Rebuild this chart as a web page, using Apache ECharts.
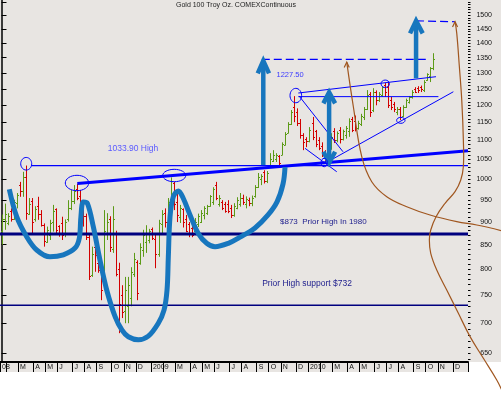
<!DOCTYPE html>
<html><head><meta charset="utf-8">
<script src="https://cdn.jsdelivr.net/npm/echarts@6/dist/echarts.min.js"></script>
<style>html,body{margin:0;padding:0;background:#fff}#c{width:501px;height:396px}</style>
</head><body><div id="c"></div>
<script>
// Weekly OHLC bars [open, high, low, close], week index 0 = week of 21 Jan 2008
const ohlc = [
[880,916,850,905],[905,941,882,918],[898,919,892,912],[925,930,900,906],[906,950,904,944],
[942,966,930,962],[985,993,957,970],[970,1018,957,1005],[1005,1033.9,904,920],[918,954,915,940],
[948,954,874,900],[905,935,900,928],[935,957,904,918],[918,926,889,892],[892,896,846,858],
[856,889,854,882],[870,904,860,898],[900,938,878,925],[928,930,871,882],[890,892,867,872],
[898,911,860,870],[872,905,866,900],[905,949,900,930],[930,973,926,948],[948,985,940,972],
[975,988,949,955],[958,973,930,935],[935,949,889,912],[912,918,860,866],[866,871,779,786],
[788,846,785,830],[845,860,795,828],[813,818,793,798],[800,809,741,760],[790,926,780,880],
[872,919,860,900],[905,912,835,845],[842,935,833,905],[874,880,786,790],[800,813,683,735],
[750,769,709,720],[722,785,700,760],[730,785,700,770],[745,804,730,795],[790,833,785,820],
[815,818,741,755],[812,853,809,845],[840,882,825,870],[855,892,833,875],[860,884,853,880],
[884,887,860,865],[862,871,802,830],[830,904,825,898],[895,926,874,918],[920,930,887,900],
[900,954,874,945],[945,1004,919,995],[990,993,926,940],[945,966,899,915],[910,938,897,930],
[928,930,887,900],[905,915,877,880],[895,899,866,872],[885,892,866,870],[880,908,877,900],
[895,918,888,912],[900,926,897,920],[915,935,905,930],[920,938,915,935],[935,961,934,958],
[945,980,938,975],[985,993,949,955],[940,961,934,955],[945,949,926,930],[940,945,920,925],
[940,949,919,925],[930,938,908,915],[915,942,911,935],[930,956,928,950],[940,966,934,955],
[955,962,938,945],[940,958,930,952],[950,955,935,942],[942,960,935,955],[958,985,955,980],
[980,1015,978,1005],[1000,1012,985,1008],[1018,1022,989,995],[995,1020,990,1015],[1032,1066,1031,1050],
[1045,1074,1043,1060],[1050,1066,1043,1062],[1058,1061,1035,1040],[1062,1095,1061,1090],[1088,1123,1087,1118],
[1120,1151,1120,1145],[1145,1186,1143,1180],[1195,1227.5,1151,1170],[1180,1191,1140,1150],[1150,1160,1105,1115],
[1115,1120,1074,1095],[1105,1109,1082,1098],[1098,1137,1095,1130],[1150,1166,1101,1110],[1125,1129,1082,1090],
[1100,1109,1074,1080],[1085,1095,1056,1065],[1065,1074,1041,1050],[1050,1092,1041,1085],[1080,1120,1075,1110],
[1125,1134,1093,1100],[1100,1125,1095,1120],[1130,1137,1092,1105],[1105,1130,1100,1125],[1115,1140,1105,1135],
[1125,1162,1110,1155],[1160,1166,1123,1130],[1155,1170,1125,1135],[1135,1155,1130,1150],[1145,1175,1140,1170],
[1165,1195,1157,1190],[1190,1246,1186,1230],[1235,1240,1166,1180],[1185,1252,1180,1240],[1240,1245,1200,1215],
[1215,1240,1210,1235],[1230,1258,1225,1255],[1262,1268,1225,1240],[1255,1271,1192,1200],[1215,1225,1186,1195],
[1205,1210,1180,1190],[1180,1195,1171,1190],[1190,1195,1157,1165],[1170,1200,1165,1195],[1195,1220,1192,1215],
[1210,1228,1205,1225],[1225,1246,1220,1240],[1250,1255,1237,1240],[1252,1258,1237,1245],[1255,1260,1240,1248],
[1245,1277,1240,1272],[1278,1299,1275,1295],[1290,1319,1271,1315],[1315,1365,1309,1345]
];
const weekCount = 155;
// month ticks: [week index where the month starts, label]
const monthTicks = [
[2,''],[6,'M'],[11,'A'],[15,'M'],[19,'J'],[24,'J'],[28,'A'],[32,'S'],[37,'O'],[41,'N'],[45,'D'],
[50,'2009'],[54,''],[58,'M'],[63,'A'],[67,'M'],[71,'J'],[76,'J'],[80,'A'],[85,'S'],[89,'O'],[93,'N'],[98,'D'],
[102,'2010'],[106,''],[110,'M'],[115,'A'],[119,'M'],[124,'J'],[128,'J'],[132,'A'],[137,'S'],[141,'O'],[145,'N'],[150,'D']
];
const firstLabel = '08';
const yTickLabels = [650,700,750,800,850,900,950,1000,1050,1100,1150,1200,1250,1300,1350,1400,1450,1500];
const yTickMarks = [650,700,750,800,850,900,950,1000,1050,1100,1150,1200,1250,1300,1350,1400,1450,1500,1550];

// Annotation geometry in data space [week index, price]
const level873 = 873, level732 = 732;
const high1033Line = [[10.0,1033.9],[154.5,1033.9]];
const neckline = [[25.1,989],[154.5,1072.5]];
const hsCurve = [[2.58,975],[5.03,911],[8.34,867],[11.66,839],[16.06,825],[20.47,829],[24.34,843],[25.77,864],
 [26.3,911],[27.09,945],[28.42,942],[30.4,889],[32.62,818],[34.84,760],[37.59,712],[39.91,688],[42.0,677],
 [45.31,672],[48.62,678],[51.93,700],[53.82,723],[54.82,760],[55.25,825],[55.81,911],[56.9,957],[58.56,971],
 [60.22,953],[62.43,915],[65.18,874],[67.97,853],[70.71,846],[75.12,853],[79.0,866],[83.96,886],[88.27,915],
 [91.25,945],[93.24,988],[93.9,1030]];
const arrowShafts = [
 [[86.7,1035],[86.7,1333]],
 [[108.5,1045],[108.5,1235]],
 [[137.3,1282.7],[137.3,1472]]
];
const arrowHeads = [
 [[84.86,1298.6],[86.7,1339.7],[88.6,1298.6]],
 [[106.6,1205.8],[108.5,1239],[110.5,1205.8]],
 [[106.6,1069.8],[108.5,1041.1],[110.5,1069.8]],
 [[135.3,1433.6],[137.3,1478.9],[139.5,1433.6]]
];
const dashedTargets = [
 [[86.2,1344.4],[140.8,1344.4]],
 [[137.3,1478.9],[150.2,1475.4]]
];
const triangleLines = [
 [[98.3,1237],[143.9,1288]],
 [[98.3,1226],[144.7,1226]],
 [[107.15,1039.6],[149.65,1240.9]],
 [[98.55,1228],[113.1,1069.8]],
 [[100.53,1078.9],[111.03,1018.2]]
];
const brownCurve1 = [[114.34,1335.4],[116.53,1195.7],[119.31,1056.7],[122.62,993.3],[127.59,957.2],
 [134.22,933.8],[141.93,914.8],[150.78,899.8],[157.4,892.5],[165.68,880.0]];
const brownCurve2 = [[150.22,1475.4],[150.78,1433.6],[151.64,1320],[152.43,1215.7],[152.96,1101.2],
 [152.96,1030.9],[152.1,997.5],[150.21,969.1],[146.9,941.7],[143.92,911],[142.16,881.5],[141.7,860],
 [142.16,832.2],[144.15,798.5],[147.46,760],[151.31,717.5],[155.18,677.2],[159.59,641.9],[164.02,608.4],[165.68,593.5]];
const brownHeads = [
 [[113.5,1317.4],[114.34,1335.4],[115.17,1317.4]],
 [[149.38,1456.2],[150.22,1475.4],[151.04,1456.2]]
];
const ellipseCenters = [[8.18,1038.5],[25.0,990.2],[57.2,1008.7],[97.47,1229.3],[106.88,1041.6],[127.08,1265.7],[132.25,1156.2]];
const ellipseRadii = [[5.5,6.3],[11.7,7.7],[11.5,6.2],[5.8,7.2],[3.2,4.2],[4.2,3.7],[4.2,3.0]];
const notes = [
 ['1033.90 High',43.55,1077],
 ['1227.50',95.56,1294.8],
 ['$873  Prior High In 1980',106.59,899.8],
 ['Prior High support $732',101.19,771.4]
];
const noteStyles = [
 {fill:'#5a5aff',fontSize:8.5},{fill:'#3b3bff',fontSize:7.5},{fill:'#1c1c8c',fontSize:8},{fill:'#1c1c8c',fontSize:8.5}
];

const GREEN = '#5c9a17', RED = '#d20000', BLUE = '#0000ff', NAVY = '#00007f', STEEL = '#1776be', BROWN = '#a0561f';
const xTickVals = [-0.5].concat(monthTicks.map(t => t[0] - 0.5)).concat([weekCount - 0.5]);
const labelMap = {}; labelMap[String(-0.5)] = firstLabel;
monthTicks.forEach(t => { if (t[1]) labelMap[String(t[0] - 0.5)] = t[1]; });
const xLabelVals = Object.keys(labelMap).map(Number);
const yMinor = []; for (let v = 640; v <= 1550; v += 10) yMinor.push(v);

function lineSeries(data, color, width, extra) {
  return Object.assign({
    type: 'line', data: data, showSymbol: false, symbol: 'none', clip: false, silent: true,
    lineStyle: {color: color, width: width}, z: 5, animation: false
  }, extra || {});
}
// free curves that may run past the plot edge: drawn with a custom series through api.coord
function curveSeries(curves, color, width, smooth, z) {
  return {
    type: 'custom', z: z, animation: false, silent: true, clip: false,
    data: curves.map((c, k) => [c[0][0], c[0][1], k]),
    encode: {x: 0, y: 1},
    renderItem: function (params, api) {
      const pts = curves[api.value(2)].map(p => api.coord(p));
      return {type: 'polyline', shape: {points: pts, smooth: smooth},
        style: {fill: 'none', stroke: color, lineWidth: width}};
    }
  };
}

const series = [];
series.push({
  type: 'custom', z: 3, animation: false, silent: true,
  data: ohlc.map((d, i) => [i, d[0], d[1], d[2], d[3]]),
  encode: {x: 0, y: [1, 2, 3, 4]},
  renderItem: function (params, api) {
    const x = api.value(0);
    const o = api.coord([x, api.value(1)]), h = api.coord([x, api.value(2)]);
    const l = api.coord([x, api.value(3)]), c = api.coord([x, api.value(4)]);
    const col = api.value(4) >= api.value(1) ? GREEN : RED;
    const cx = Math.round(h[0]) + 0.5;
    const st = {stroke: col, lineWidth: 1};
    return {type: 'group', children: [
      {type: 'line', shape: {x1: cx, y1: h[1], x2: cx, y2: l[1]}, style: st},
      {type: 'line', shape: {x1: cx - 1.5, y1: Math.round(o[1]) + 0.5, x2: cx, y2: Math.round(o[1]) + 0.5}, style: st},
      {type: 'line', shape: {x1: cx, y1: Math.round(c[1]) + 0.5, x2: cx + 1.5, y2: Math.round(c[1]) + 0.5}, style: st}
    ]};
  }
});
series.push(lineSeries([[-0.5, level873], [154.5, level873]], NAVY, 3));
series.push(lineSeries([[-0.5, level732], [154.5, level732]], NAVY, 1.5));
series.push(lineSeries(high1033Line, BLUE, 1.2));
series.push(lineSeries(neckline, BLUE, 3));
triangleLines.forEach(t => series.push(lineSeries(t, BLUE, 1)));
dashedTargets.forEach(t => series.push(lineSeries(t, BLUE, 1.2, {lineStyle: {color: BLUE, width: 1.2, type: [8, 4]}})));
series.push(lineSeries(hsCurve, STEEL, 5, {smooth: 0.35, z: 6}));
arrowShafts.forEach(t => series.push(lineSeries(t, STEEL, 4.5, {z: 7})));
arrowHeads.forEach(t => series.push(lineSeries(t, STEEL, 4.5, {z: 7, lineStyle: {color: STEEL, width: 4.5, join: 'miter'}})));
series.push(curveSeries([brownCurve1, brownCurve2], BROWN, 1.2, 0.4, 8));
series.push(curveSeries(brownHeads, BROWN, 1.2, 0, 8));
series.push({
  type: 'custom', z: 9, animation: false, silent: true,
  data: ellipseCenters.map((d, i) => [d[0], d[1], i]),
  encode: {x: 0, y: 1},
  renderItem: function (params, api) {
    const p = api.coord([api.value(0), api.value(1)]);
    const r = ellipseRadii[api.value(2)];
    return {type: 'ellipse', shape: {cx: p[0], cy: p[1], rx: r[0], ry: r[1]},
      style: {fill: 'none', stroke: BLUE, lineWidth: 1}};
  }
});
series.push({
  type: 'custom', z: 10, animation: false, silent: true,
  data: notes.map((d, i) => [d[1], d[2], i]),
  encode: {x: 0, y: 1},
  renderItem: function (params, api) {
    const p = api.coord([api.value(0), api.value(1)]);
    const k = api.value(2);
    const s = noteStyles[k];
    return {type: 'text', x: p[0], y: p[1], style: {text: notes[k][0], fill: s.fill,
      fontSize: s.fontSize, fontFamily: 'Liberation Sans', align: 'center', verticalAlign: 'middle'}};
  }
});

const chart = echarts.init(document.getElementById('c'), null, {renderer: 'canvas'});
chart.setOption({
  animation: false,
  backgroundColor: '#e8e5e2',
  grid: {left: 0, right: 33, top: 0, bottom: 34, containLabel: false, outerBoundsMode: 'none'},
  graphic: [
    {type: 'rect', left: 0, top: 372, z: -1, shape: {width: 501, height: 24}, style: {fill: '#ffffff'}},
    {type: 'rect', left: 469, top: 362, z: -1, shape: {width: 32, height: 34}, style: {fill: '#ffffff'}},
    {type: 'text', left: 176, top: 2, z: 20, style: {text: 'Gold 100 Troy Oz. COMEXContinuous',
      fill: '#222', fontSize: 7, fontFamily: 'Liberation Sans'}}
  ],
  xAxis: {
    type: 'value', min: -0.5, max: weekCount - 0.5,
    axisLine: {show: true, lineStyle: {color: '#000', width: 2}},
    axisTick: {show: true, inside: false, length: 10, customValues: xTickVals, lineStyle: {color: '#000', width: 1}},
    axisLabel: {show: true, customValues: xLabelVals, formatter: v => labelMap[String(v)] || '',
      align: 'left', padding: [0, 0, 0, 2], fontSize: 7, color: '#111', margin: 2, fontFamily: 'Liberation Sans'},
    splitLine: {show: false}
  },
  yAxis: [{
    type: 'log', position: 'right', min: 636, max: 1557,
    axisLine: {show: true, lineStyle: {color: '#000', width: 1.5}},
    axisTick: {show: true, inside: false, length: 5, customValues: yTickMarks, lineStyle: {color: '#000'}},
    axisLabel: {show: true, customValues: yTickLabels, fontSize: 7, color: '#111', align: 'right', margin: 24,
      fontFamily: 'Liberation Sans', formatter: v => String(Math.round(v))},
    splitLine: {show: false}, minorTick: {show: false}
  }, {
    type: 'log', position: 'right', min: 636, max: 1557,
    axisLine: {show: false},
    axisTick: {show: true, inside: false, length: 2.5, customValues: yMinor, lineStyle: {color: '#000'}},
    axisLabel: {show: false}, splitLine: {show: false}
  }],
  series: series
});
</script></body></html>
